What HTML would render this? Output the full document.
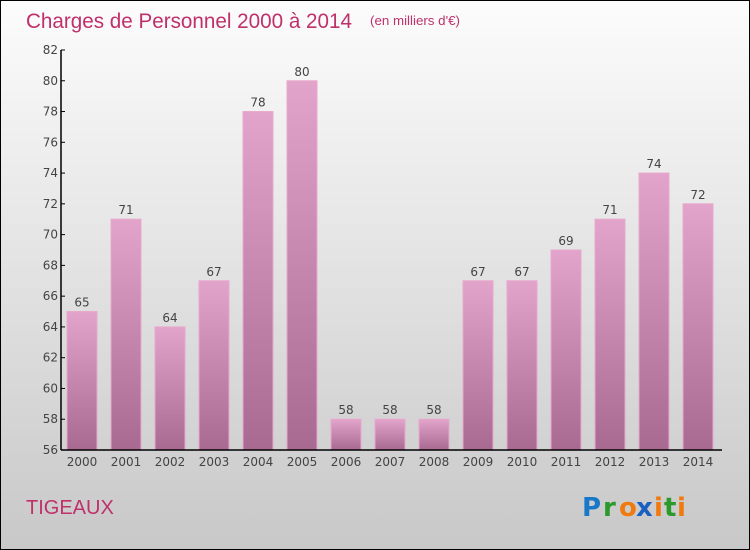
<!DOCTYPE html>
<html><head><meta charset="utf-8"><style>
body{margin:0}
svg{display:block;font-family:"DejaVu Sans","Liberation Sans",sans-serif}
</style></head><body>
<svg width="750" height="550" viewBox="0 0 750 550">
<defs>
<linearGradient id="bg" x1="0" y1="0" x2="0" y2="1"><stop offset="0" stop-color="#fcfcfc"/><stop offset="1" stop-color="#c8c8c8"/></linearGradient>
<linearGradient id="bar" x1="0" y1="0" x2="0" y2="1"><stop offset="0" stop-color="#e2a4ca"/><stop offset="1" stop-color="#a86a90"/></linearGradient>
</defs>
<rect x="0.5" y="0.5" width="749" height="549" fill="url(#bg)" stroke="#000"/>
<text x="26" y="28" font-size="21" fill="#c0306a" font-family="Liberation Sans, sans-serif" textLength="326" lengthAdjust="spacingAndGlyphs">Charges de Personnel 2000 à 2014</text>
<text x="370" y="25" font-size="13" fill="#c0306a" font-family="Liberation Sans, sans-serif" textLength="90" lengthAdjust="spacingAndGlyphs">(en milliers d'€)</text>
<g id="plot"></g>
<text x="26" y="514" font-size="20" fill="#c0306a" font-family="Liberation Sans, sans-serif">TIGEAUX</text>
<g font-family="DejaVu Sans, sans-serif" font-size="26" font-weight="bold">
<text x="582" y="516" fill="#1a78c8">P</text><text x="603" y="516" fill="#2a9a2a">r</text><text x="619" y="516" fill="#f07a10">o</text><text x="636" y="516" fill="#1a60c0">x</text><text x="654" y="516" fill="#f07a10">i</text><text x="664" y="516" fill="#2a9a2a">t</text><text x="677" y="516" fill="#f07a10">i</text>
</g>
</svg>
<script>
const categories=["2000","2001","2002","2003","2004","2005","2006","2007","2008","2009","2010","2011","2012","2013","2014"];
const values=[65,71,64,67,78,80,58,58,58,67,67,69,71,74,72];
const yTicks=[56,58,60,62,64,66,68,70,72,74,76,78,80,82];
(function(){
const NS="http://www.w3.org/2000/svg";
const g=document.getElementById('plot');
const yMin=56,yMax=82,pTop=50,pBot=450,pLeft=61,pRight=722;
const y=v=>pBot-(v-yMin)/(yMax-yMin)*(pBot-pTop);
const step=44,x0=82;
const x=i=>x0+i*step;
function el(t,a){const e=document.createElementNS(NS,t);for(const k in a)e.setAttribute(k,a[k]);g.appendChild(e);return e;}
values.forEach((v,i)=>{
 const r=el('rect',{x:x(i)-15,y:y(v),width:30,height:pBot-y(v),fill:'url(#bar)',stroke:'#e8a8cc','stroke-width':1});
 
 
 const t=el('text',{x:x(i),y:y(v)-5,'text-anchor':'middle','font-size':12,fill:'#444'});
 t.textContent=v;
 
 
 const c=el('text',{x:x(i),y:pBot+16,'text-anchor':'middle','font-size':12,fill:'#444'});
 c.textContent=categories[i];
 
 
});
yTicks.forEach(v=>{
 el('line',{x1:pLeft,x2:pLeft+4,y1:y(v),y2:y(v),stroke:'#000'});
 const t=el('text',{x:pLeft-3,y:y(v)+4,'text-anchor':'end','font-size':12,fill:'#444'});
 t.textContent=v;
 
 
});
const ya=el('line',{x1:pLeft,x2:pLeft,y1:pTop,y2:pBot,stroke:'#000','stroke-width':1.5});


const xa=el('line',{x1:pLeft,x2:pRight,y1:pBot,y2:pBot,stroke:'#000','stroke-width':1.5});


})();
</script>
</body></html>
